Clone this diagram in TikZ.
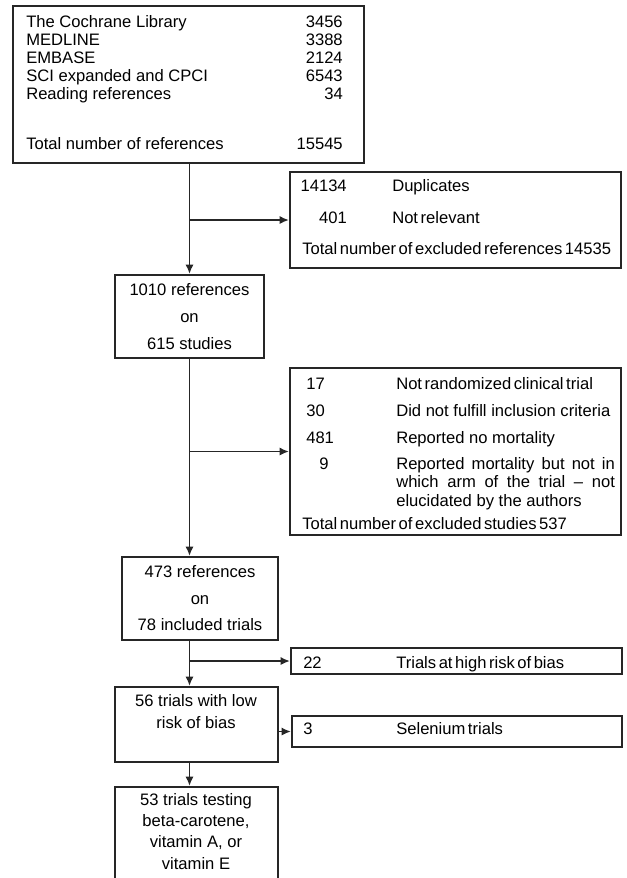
\documentclass[tikz,border=0pt]{standalone}
\usepackage{fontspec}
\setmainfont{Liberation Sans}
\newfontfamily\tightfont{Liberation Sans}[WordSpace=0.55]
\usetikzlibrary{arrows.meta,positioning}

\tikzset{
  box/.style={draw=black!85, line width=1.4pt, inner sep=0pt, align=center},
  link/.style={draw=black!85, line width=1.4pt, -{Latex[length=7pt,width=6pt]}},
  txt/.style={inner sep=0pt, anchor=base west},
  num/.style={inner sep=0pt, anchor=base east},
}

\begin{document}
\begin{tikzpicture}[x=0.75pt,y=-0.75pt,font=\fontsize{12.45}{13.9}\selectfont]
    \useasboundingbox (0,0) rectangle (626,878);
    % main column
    \node[box, minimum width=263.25pt, minimum height=117.75pt] (sources) at (188.5,84.5) {};
    \node[box, minimum width=111.75pt, minimum height=62.25pt] (refs) at (189.5,316.5)
      {1010 references\\[6.3pt] on\\[6.3pt] 615 studies};
    \node[box, minimum width=117pt, minimum height=62.25pt] (included) at (200,598.5)
      {473 references\\[6pt] on\\[6pt] 78 included trials};
    \node[box, minimum width=122.25pt, minimum height=56.25pt] (lowrisk) at (196.5,724.5) {};
    \node[align=center, inner sep=0pt] (lowrisktxt) at (196,712) {56 trials with low\\[2.6pt] risk of bias};
    \node[box, minimum width=122.25pt, minimum height=77.25pt] (antiox) at (196.5,838.5) {};
    \node[align=center, inner sep=0pt] (antioxtxt) at (196,831.5)
      {53 trials testing\\[1.9pt] beta-carotene,\\[1.9pt] vitamin A, or\\[1.9pt] vitamin E};
    % exclusion boxes
    \node[box, minimum width=248.25pt, minimum height=72pt] (exrefs) at (455.5,220) {};
    \node[box, minimum width=248.25pt, minimum height=125.25pt] (exstudies) at (455.5,451.5) {};
    \node[box, minimum width=248.25pt, minimum height=19.5pt] (highrisk) at (456.5,661) {};
    \node[box, minimum width=247.5pt, minimum height=23.25pt] (selenium) at (457,731.5) {};

    % database counts
    \foreach \src/\num/\y [count=\i] in {The Cochrane Library/3456/27, MEDLINE/3388/45.1,
        EMBASE/2124/63.2, SCI expanded and CPCI/6543/81.3, Reading references/34/99.4,
        Total number of references/15545/149} {
      \node[txt] (src\i) at (26,\y) {\src};
      \node[num] (cnt\i) at (343,\y) {\num};
    }

    % excluded references
    \node[num] (dupn) at (347,191) {14134};
    \node[txt] (dup) at (392,191) {Duplicates};
    \node[num] (notreln) at (347,223) {401};
    \node[txt] (notrel) at (392,223) {\tightfont Not relevant};
    \node[txt] (exrefstot) at (302,254) {\tightfont Total number of excluded references 14535};

    % excluded studies
    \foreach \n/\why/\y [count=\i] in {17/\tightfont Not randomized clinical trial/389,
        30/Did not fulfill inclusion criteria/416, 481/Reported no mortality/443} {
      \node[txt] (exn\i) at (306,\y) {\n};
      \node[txt] (exwhy\i) at (396,\y) {\why};
    }
    \node[txt] (exn4) at (319,469) {9};
    \node[txt] (exwhy4a) at (396,469) {\makebox[164pt][s]{Reported mortality but not in}};
    \node[txt] (exwhy4b) at (396,487.5) {\makebox[164pt][s]{which arm of the trial -- not}};
    \node[txt] (exwhy4c) at (396,506) {elucidated by the authors};
    \node[txt] (exstudtot) at (302,529) {\tightfont Total number of excluded studies 537};

    % risk of bias and selenium
    \node[txt] (highn) at (303,668) {22};
    \node[txt] (highlbl) at (396,668) {\tightfont Trials at high risk of bias};
    \node[txt] (selen) at (303,734) {3};
    \node[txt] (sellbl) at (396,734) {\tightfont Selenium trials};

    % connectors
    \draw[link] (sources.south -| refs.north) -- (refs.north);
    \draw[link] (refs.north |- exrefs.west) -- (exrefs.west);
    \draw[link] (refs.south) -- (refs.south |- included.north);
    \draw[link] (refs.south |- exstudies.west) -- (exstudies.west);
    \draw[link] (refs.south |- included.south) -- (refs.south |- lowrisk.north);
    \draw[link] (refs.south |- highrisk.west) -- (highrisk.west);
    \draw[link] (lowrisk.east |- selenium.west) -- (selenium.west);
    \draw[link] (refs.south |- lowrisk.south) -- (refs.south |- antiox.north);
  \end{tikzpicture}
\end{document}
